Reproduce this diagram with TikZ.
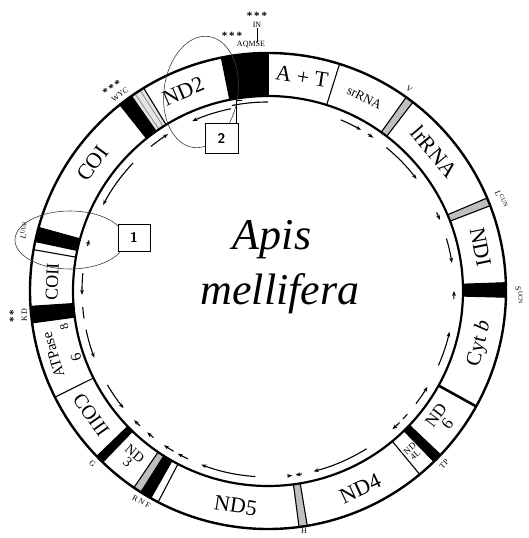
\documentclass[tikz,border=0pt]{standalone}
\usepackage{fontspec}
\setmainfont{Liberation Serif}
\usetikzlibrary{arrows.meta}
\newcommand\ringseg[3]{\fill[#3] (#1:238pt) arc[start angle=#1,end angle=#2,radius=238pt] -- (#2:195pt) arc[start angle=#2,end angle=#1,radius=195pt] -- cycle;}
\newcommand\bline[1]{\draw[segline] (#1:195pt) -- (#1:238pt);}
\newcommand\garrow[2]{\draw[garr] (#1:186pt) arc[start angle=#1,end angle=#2,radius=186pt];}
\begin{document}
\begin{tikzpicture}[x=1pt,y=1pt,
  segline/.style={line width=1.1pt},
  garr/.style={line width=1.1pt,-{Stealth[length=5pt,width=3.8pt]}},
  gbar/.style={line width=1.1pt},
  glabel/.style={font=\fontsize{22}{22}\selectfont,inner sep=0pt},
  tlabel/.style={font=\fontsize{8}{8}\selectfont,inner sep=0pt},
  starlabel/.style={font=\fontsize{11}{11}\selectfont\bfseries,inner sep=0pt},
  numbox/.style={draw,line width=0.9pt,fill=white,minimum width=32pt,minimum height=27pt,font=\sffamily\bfseries\fontsize{14}{14}\selectfont},
  loop/.style={draw=black!75,line width=0.6pt}]
\useasboundingbox (-268,-247) rectangle (260,291);
\fill[white] (-268,-247) rectangle (260,291);
% black tRNA blocks
\ringseg{90}{101.3}{black}
\ringseg{-1.5}{2}{black}
\ringseg{-45.8}{-43.5}{black}
\ringseg{-122.3}{-119.5}{black}
\ringseg{-136}{-134}{black}
\ringseg{183.7}{187.7}{black}
\ringseg{164.5}{168}{black}
\ringseg{125}{128.5}{black}
% grey tRNA bands
\ringseg{52.5}{54.5}{black!25}
\ringseg{21}{23}{black!25}
\ringseg{-82.5}{-80.5}{black!25}
\ringseg{-124.3}{-122.3}{black!25}
\ringseg{121.5}{125}{black!10}
\draw[line width=0.8pt,black!45] (122.5:195pt) -- (122.5:238pt);
\draw[line width=0.8pt,black!45] (124:195pt) -- (124:238pt);
% segment boundaries
\foreach \a in {101.3,90,72.5,54.5,52.5,23,21,2,-1.5,-43.5,-45.8,-50.4,-80.5,-82.5,-117.5,-119.5,-122.3,-124.3,-134,-136,-153.5,187.7,183.7,170,168,164.5,128.5,125,121.5}{\bline{\a}}
\draw[line width=2.6pt] (-29:195pt) -- (-29:238pt);
% ring
\draw[line width=2.4pt] (0,0) circle[radius=238pt];
\draw[line width=2.2pt] (0,0) circle[radius=195pt];
% gene labels
\node[glabel,rotate=-9] (at) at (81:217pt) {A + T};
\node[glabel,rotate=23] (nd2) at (113:217pt) {ND2};
\node[glabel,font=\fontsize{13}{13}\selectfont,rotate=-26.5] (sr) at (63.5:216pt) {srRNA};
\node[glabel,rotate=-50] (lr) at (40:217pt) {lrRNA};
\node[glabel,rotate=-78.5] (nd1) at (11.7:217pt) {NDI};
\node[glabel,font=\fontsize{21}{21}\selectfont,rotate=76] (cytb) at (-14:218pt) {Cyt \textit{b}};
\node[glabel,font=\fontsize{17}{17}\selectfont,rotate=53,align=center] (nd6) at (-36.5:216pt) {ND\\[-3pt]6};
\node[glabel,font=\fontsize{9}{9}\selectfont,rotate=42,align=center] (nd4l) at (-48:216pt) {ND\\[-1pt]4L};
\node[glabel,rotate=25] (nd4) at (-65:218pt) {ND4};
\node[glabel,rotate=-8.6] (nd5) at (-98.6:217pt) {ND5};
\node[glabel,font=\fontsize{14}{14}\selectfont,rotate=-39.6,align=center] (nd3) at (-129.3:216pt) {ND\\[-3pt]3};
\node[glabel,font=\fontsize{20}{20}\selectfont,rotate=-55] (co3) at (-145:216pt) {COIII};
\node[glabel,font=\fontsize{15}{15}\selectfont,rotate=107] (atp) at (-163.5:224pt) {ATPase};
\node[glabel,font=\fontsize{15}{15}\selectfont,rotate=107] (atp6) at (-161:203pt) {6};
\node[glabel,font=\fontsize{12}{12}\selectfont,rotate=107] (atp8) at (-170:207pt) {8};
\node[glabel,font=\fontsize{18}{18}\selectfont,rotate=88] (co2) at (177.5:216pt) {COII};
\node[glabel,rotate=54] (co1) at (144:217pt) {COI};
% tRNA labels
\node[tlabel,rotate=-35] (tv) at (55:246pt) {V};
\node[tlabel,rotate=-65] (tl1) at (21.5:251pt) {L\textsuperscript{CUN}};
\node[tlabel,rotate=-88] (ts) at (-1:251pt) {S\textsuperscript{UCN}};
\node[tlabel,rotate=48] (ttp) at (-44.5:247pt) {TP};
\node[tlabel] (th) at (-81.5:243pt) {H};
\node[tlabel,rotate=-30] (trnf) at (-121:246pt) {R N F};
\node[tlabel,rotate=-45] (tg) at (-135.5:246pt) {G};
\node[tlabel,rotate=90] (tkd) at (185.7:245pt) {K\,D};
\node[starlabel,rotate=90] (tkds) at (185.7:256pt) {*\,*};
\node[tlabel,rotate=75] (tl2) at (166:251pt) {L\textsuperscript{UUR}};
\node[tlabel,rotate=35] (twyc) at (127:246pt) {WYC};
\node[starlabel,rotate=35] (twycs) at (127.5:256pt) {*\,*\,*};
\node[tlabel] (taq) at (-17,246) {AQMSE};
\node[starlabel] (tst1) at (-36,255) {*\,*\,*};
\node[tlabel] (tin) at (-11,266) {IN};
\node[starlabel] (tins) at (-11,275) {*\,*\,*};
\draw[line width=0.6pt] (tin.south) -- (taq.north -| tin.south);
% gene direction arrows
\draw[gbar] (90:189pt) arc[start angle=90,end angle=101,radius=189pt];
\garrow{101.5}{114}
\garrow{67}{60}
\garrow{57.5}{55.5}
\garrow{50.5}{37}
\garrow{25}{22.5}
\garrow{16.4}{8.7}
\garrow{-2.5}{0}
\garrow{-23.6}{-12.7}
\garrow{-37.3}{-31}
\draw[gbar] (-41.5:186pt) arc[start angle=-41.5,end angle=-43.5,radius=186pt];
\garrow{-45}{-48}
\garrow{-58}{-75.8}
\garrow{-79.5}{-81.5}
\garrow{-84}{-82.5}
\garrow{-93.9}{-111}
\garrow{-115.5}{-119}
\garrow{-120.5}{-124}
\garrow{-128}{-130.5}
\garrow{-133.5}{-136}
\garrow{-149.7}{-141}
\garrow{-168}{-159}
\draw[gbar] (-171.5:186pt) arc[start angle=-171.5,end angle=-175,radius=186pt];
\garrow{174.5}{181.2}
\garrow{166}{164}
\garrow{136.5}{152.4}
\garrow{129}{122.5}
% loops and boxes
\draw[loop] (-198,51) ellipse[x radius=55pt,y radius=29pt];
\draw[loop,rotate around={-8:(-67,199)}] (-67,199) ellipse[x radius=37pt,y radius=56pt];
\node[numbox] (b1) at (-134,53.5) {1};
\node[numbox,minimum width=33pt,minimum height=30pt] (b2) at (-46.5,153) {2};
\coordinate (b2top) at (-26,191);
\draw[line width=0.6pt] (b2.north east) ++(-2,0) |- (b2top);
% species name
\node[font=\itshape\fontsize{44}{44}\selectfont,inner sep=0pt] (apis) at (4,51) {Apis};
\node[font=\itshape\fontsize{44}{44}\selectfont,inner sep=0pt] (mell) at (12,-3) {mellifera};
\end{tikzpicture}
\end{document}
